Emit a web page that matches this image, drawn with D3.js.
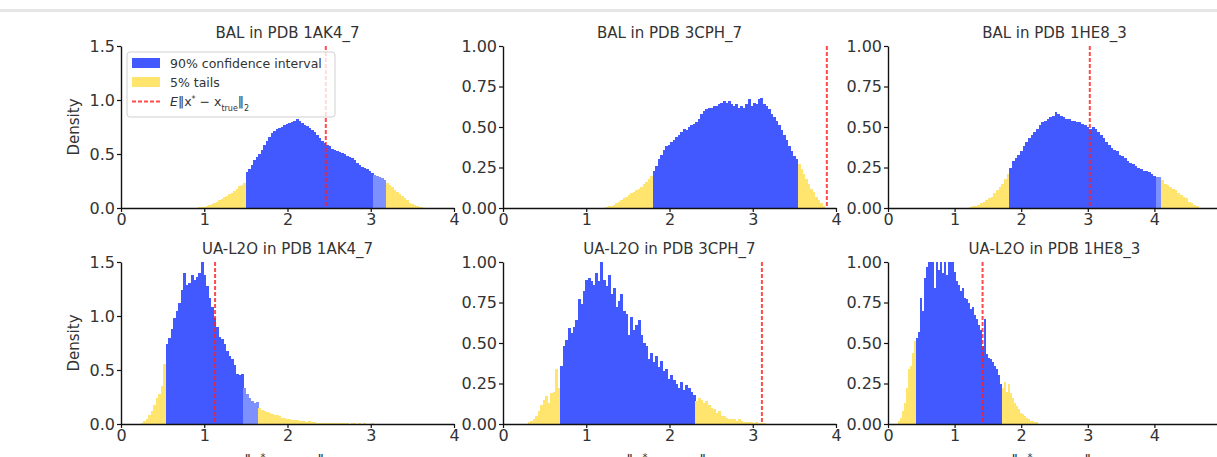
<!DOCTYPE html>
<html>
<head>
<meta charset="utf-8">
<script src="https://cdn.jsdelivr.net/npm/d3@7"></script>
<style>
  body { margin: 0; background: #fff; }
  svg { display: block; font-family: "DejaVu Sans", sans-serif; }
</style>
</head>
<body>
<svg id="chart" width="1217" height="457"></svg>
<script>
// panel order: top row BAL, bottom row UA-L2O
const titles = ["BAL in PDB 1AK4_7", "BAL in PDB 3CPH_7", "BAL in PDB 1HE8_3",
                "UA-L2O in PDB 1AK4_7", "UA-L2O in PDB 3CPH_7", "UA-L2O in PDB 1HE8_3"];

// histogram bins: first left edge and width
const binStart = [0.90, 1.20, 1.22, 0.24, 0.30, 0.15];
const binWidth = [0.03, 0.03, 0.04, 0.03, 0.03, 0.03];

// 90% interval bounds, paler overlap band, and the mean error (red dashed line)
const ciLow  = [1.50, 1.80, 1.82, 0.54, 0.69, 0.42];
const ciHigh = [3.18, 3.54, 4.10, 1.65, 2.31, 1.71];
const paleBand = [[3.03, 3.18], null, [4.02, 4.10], [1.47, 1.65], null, null];
const meanErr = [2.46, 3.89, 3.03, 1.13, 3.11, 1.42];

const xMax = [4, 4, 5, 4, 4, 5];
const xTicks = [0, 1, 2, 3, 4];
const yMax = [1.5, 1, 1, 1.5, 1, 1];
const yTicksA = [0, 0.5, 1.0, 1.5];
const yTicksB = [0, 0.25, 0.5, 0.75, 1.0];

const balAk4 = [0.003,0.005,0.008,0.012,0.02,0.03,0.04,0.05,0.06,0.07,
  0.08,0.10,0.11,0.13,0.14,0.16,0.18,0.20,0.21,0.23,
  0.33,0.36,0.40,0.44,0.47,0.50,0.54,0.58,0.62,0.66,
  0.69,0.71,0.73,0.74,0.75,0.77,0.78,0.79,0.80,0.81,
  0.82,0.81,0.79,0.77,0.76,0.74,0.72,0.70,0.68,0.65,
  0.62,0.60,0.58,0.57,0.55,0.54,0.53,0.52,0.51,0.50,
  0.48,0.47,0.46,0.44,0.42,0.40,0.38,0.37,0.36,0.34,
  0.32,0.31,0.30,0.29,0.28,0.26,
  0.23,0.21,0.19,0.17,0.15,0.13,0.11,0.09,0.07,0.05,0.04,0.03,0.02,0.01,0.005];

const bal3cph = [0.003,0.005,0.01,0.015,0.02,0.03,0.04,0.05,0.06,0.07,
  0.08,0.09,0.10,0.11,0.12,0.13,0.15,0.16,0.18,0.20,
  0.23,0.26,0.30,0.33,0.36,0.38,0.39,0.41,0.42,0.44,
  0.45,0.47,0.49,0.48,0.50,0.51,0.52,0.53,0.55,0.58,
  0.60,0.61,0.62,0.62,0.63,0.63,0.64,0.65,0.66,0.65,
  0.66,0.64,0.63,0.64,0.62,0.63,0.62,0.64,0.67,0.63,
  0.65,0.64,0.67,0.68,0.64,0.63,0.61,0.58,0.56,0.54,
  0.51,0.48,0.45,0.42,0.38,0.35,0.32,0.30,
  0.27,0.24,0.21,0.18,0.15,0.12,0.10,0.07,0.05,0.03,0.01];

const bal1he8 = [0.005,0.01,0.015,0.02,0.03,0.04,0.05,0.06,0.07,0.09,0.11,0.13,0.15,0.18,0.21,
  0.25,0.29,0.31,0.33,0.35,0.38,0.41,0.43,0.45,0.47,
  0.49,0.51,0.53,0.54,0.55,0.56,0.57,0.59,0.58,0.57,
  0.56,0.55,0.55,0.54,0.54,0.53,0.53,0.52,0.51,0.50,
  0.49,0.50,0.49,0.47,0.45,0.43,0.41,0.39,0.37,0.36,
  0.35,0.33,0.32,0.31,0.29,0.28,0.27,0.26,0.25,0.24,
  0.23,0.23,0.22,0.21,0.20,0.19,0.19,
  0.17,0.15,0.14,0.13,0.12,0.11,0.09,0.08,0.07,0.06,0.04,0.03,0.02,0.01];

const ualAk4 = [0.01,0.03,0.05,0.08,0.12,0.18,0.24,0.28,0.35,0.56,
  0.74,0.80,0.88,0.98,1.05,1.12,1.24,1.40,1.29,1.31,
  1.38,1.33,1.36,1.40,1.50,1.38,1.28,1.17,1.08,0.98,
  0.90,0.81,0.79,0.74,0.68,0.63,0.60,0.55,0.46,0.45,
  0.46,0.33,0.28,0.24,0.21,0.19,0.20,
  0.15,0.13,0.12,0.11,0.10,0.09,0.08,0.08,0.07,0.06,0.06,0.05,0.05,0.04,0.04,0.04,
  0.03,0.03,0.03,0.02,0.03,0.02,0.02,0.01,0.01,0.01,0.01,0.01,0.01,0.01,
  0.005,0.01,0.005,0.005,0.005,0.005,0,0.005,0.005,0,0.005,0,0.005,0,0,0.005];

const ual3cph = [0.01,0.02,0.03,0.05,0.08,0.12,0.15,0.17,0.13,0.19,0.20,0.34,0.22,
  0.36,0.48,0.52,0.59,0.56,0.60,0.64,0.77,0.74,0.82,
  0.89,0.90,0.88,0.86,0.93,0.88,1.00,0.89,0.85,0.92,
  0.80,0.84,0.72,0.76,0.80,0.70,0.68,0.55,0.66,0.58,
  0.61,0.64,0.55,0.50,0.48,0.40,0.44,0.38,0.42,0.35,
  0.39,0.33,0.34,0.28,0.30,0.27,0.25,0.22,0.26,0.21,
  0.24,0.22,0.20,0.18,
  0.14,0.16,0.15,0.13,0.14,0.12,0.10,0.09,0.07,0.08,0.05,0.05,0.04,0.03,
  0.03,0.03,0.02,0.03,0.02,0.01,0.01,0.01,0.01,0.005,0.01,0.005,0.005,0.005];

const ual1he8 = [0.02,0.04,0.08,0.13,0.22,0.34,0.36,0.44,0.51,
  0.53,0.57,0.78,0.70,0.90,0.97,1.04,1.10,1.06,0.84,
  1.02,0.95,1.05,0.93,1.03,0.92,1.08,1.02,1.01,0.94,
  0.88,0.86,0.82,0.84,0.78,0.77,0.75,0.71,0.72,0.67,
  0.65,0.61,0.58,0.48,0.65,0.43,0.41,0.40,0.38,0.36,
  0.34,0.30,0.25,
  0.22,0.26,0.20,0.25,0.19,0.16,0.13,0.11,0.09,0.07,0.06,0.05,0.04,0.03,0.02,0.02,0.01,0.01];

const densities = [balAk4, bal3cph, bal1he8, ualAk4, ual3cph, ual1he8];

const blue = "#4259ff", paleBlue = "#7d90ff", yellow = "#ffe56e", red = "#ff1e1e";

const svg = d3.select("#chart");

// faint strip along the top edge of the screenshot
svg.append("rect").attr("x", 0).attr("y", 9).attr("width", 1217).attr("height", 3)
  .attr("fill", "#e6e6e6");

const colLeft = [121, 503, 888];
const rowTop = [46, 262];
const plotW = 333, plotH = 162;

// writes ‖x* − x_true‖₂ into a text element
function normLabel(txt, small) {
  txt.append("tspan").text("‖x");
  txt.append("tspan").text("*").attr("baseline-shift", "super").attr("font-size", small);
  txt.append("tspan").text(" − x");
  txt.append("tspan").text("true").attr("baseline-shift", "sub").attr("font-size", small);
  txt.append("tspan").text("‖");
  txt.append("tspan").text("2").attr("baseline-shift", "sub").attr("font-size", small);
}

titles.forEach(function(title, i) {
  let row = Math.floor(i / 3), col = i % 3;
  let g = svg.append("g")
    .attr("transform", "translate(" + colLeft[col] + "," + rowTop[row] + ")");

  let x = d3.scaleLinear().domain([0, xMax[i]]).range([0, plotW]);
  let y = d3.scaleLinear().domain([0, yMax[i]]).range([plotH, 0]);

  g.append("clipPath").attr("id", "clip" + i)
    .append("rect").attr("width", plotW).attr("height", plotH);

  let bins = densities[i].map(function(v, k) {
    let x0 = binStart[i] + k * binWidth[i];
    return {x0: x0, x1: x0 + binWidth[i], v: v};
  });

  g.append("g").attr("clip-path", "url(#clip" + i + ")")
    .selectAll("rect")
    .data(bins)
    .join("rect")
    .attr("x", d => x(d.x0))
    .attr("width", d => x(d.x1) - x(d.x0) + 0.3)
    .attr("y", d => y(d.v))
    .attr("height", d => plotH - y(d.v))
    .attr("shape-rendering", "crispEdges")
    .attr("fill", function(d) {
      let c = (d.x0 + d.x1) / 2;
      if (c < ciLow[i] || c > ciHigh[i]) return yellow;
      let pb = paleBand[i];
      if (pb && c > pb[0] && c < pb[1]) return paleBlue;
      return blue;
    });

  // axes, left and bottom spines only
  let xAxis = g.append("g").attr("transform", "translate(0," + plotH + ")")
    .call(d3.axisBottom(x).tickValues(xTicks).tickFormat(d3.format("d"))
      .tickSize(4).tickPadding(2).tickSizeOuter(0));
  let yAxis = g.append("g")
    .call(d3.axisLeft(y).tickValues(yMax[i] > 1 ? yTicksA : yTicksB)
      .tickFormat(d3.format(yMax[i] > 1 ? ".1f" : ".2f"))
      .tickSize(4).tickPadding(2).tickSizeOuter(0));
  [xAxis, yAxis].forEach(function(a) {
    a.select(".domain").attr("stroke", "#111").attr("stroke-width", 1.4);
    a.selectAll(".tick line").attr("stroke", "#111").attr("stroke-width", 1.2);
    a.selectAll(".tick text").attr("fill", "#333").attr("font-size", 16)
      .attr("font-family", "DejaVu Sans");
  });

  // mean error
  g.append("line")
    .attr("x1", x(meanErr[i])).attr("x2", x(meanErr[i]))
    .attr("y1", 0).attr("y2", plotH)
    .attr("stroke", red).attr("stroke-opacity", 0.8)
    .attr("stroke-width", 2).attr("stroke-dasharray", "4,2");

  g.append("text")
    .attr("x", plotW / 2).attr("y", -8)
    .attr("text-anchor", "middle")
    .attr("font-size", 15).attr("fill", "#333")
    .text(title);

  if (col == 0) {
    g.append("text")
      .attr("transform", "translate(-42," + (plotH / 2) + ") rotate(-90)")
      .attr("text-anchor", "middle")
      .attr("font-size", 15).attr("fill", "#333")
      .text("Density");
  }

  if (row == 1) {
    let xl = g.append("text")
      .attr("x", plotW / 2).attr("y", plotH + 42)
      .attr("text-anchor", "middle")
      .attr("font-size", 15).attr("fill", "#333");
    normLabel(xl, 10);
  }

  if (i == 0) {
    // legend, drawn over the dashed line like matplotlib's framed legend
    let lg = g.append("g").attr("transform", "translate(6,6)");
    lg.append("rect").attr("width", 208).attr("height", 65).attr("rx", 3)
      .attr("fill", "#fff").attr("fill-opacity", 0.8)
      .attr("stroke", "#d0d0d0");
    lg.append("rect").attr("x", 5).attr("y", 6).attr("width", 28).attr("height", 10).attr("fill", blue);
    lg.append("rect").attr("x", 5).attr("y", 25).attr("width", 28).attr("height", 10).attr("fill", yellow);
    lg.append("line").attr("x1", 5).attr("x2", 33).attr("y1", 49.5).attr("y2", 49.5)
      .attr("stroke", red).attr("stroke-opacity", 0.8).attr("stroke-width", 2)
      .attr("stroke-dasharray", "4,2");
    let items = ["90% confidence interval", "5% tails"];
    items.forEach(function(t, k) {
      lg.append("text").attr("x", 43).attr("y", 15.5 + k * 19)
        .attr("font-size", 12.5).attr("fill", "#333").text(t);
    });
    let et = lg.append("text").attr("x", 43).attr("y", 54)
      .attr("font-size", 12.5).attr("fill", "#333");
    et.append("tspan").text("E").attr("font-style", "italic");
    normLabel(et, 8);
  }
});
</script>
</body>
</html>
